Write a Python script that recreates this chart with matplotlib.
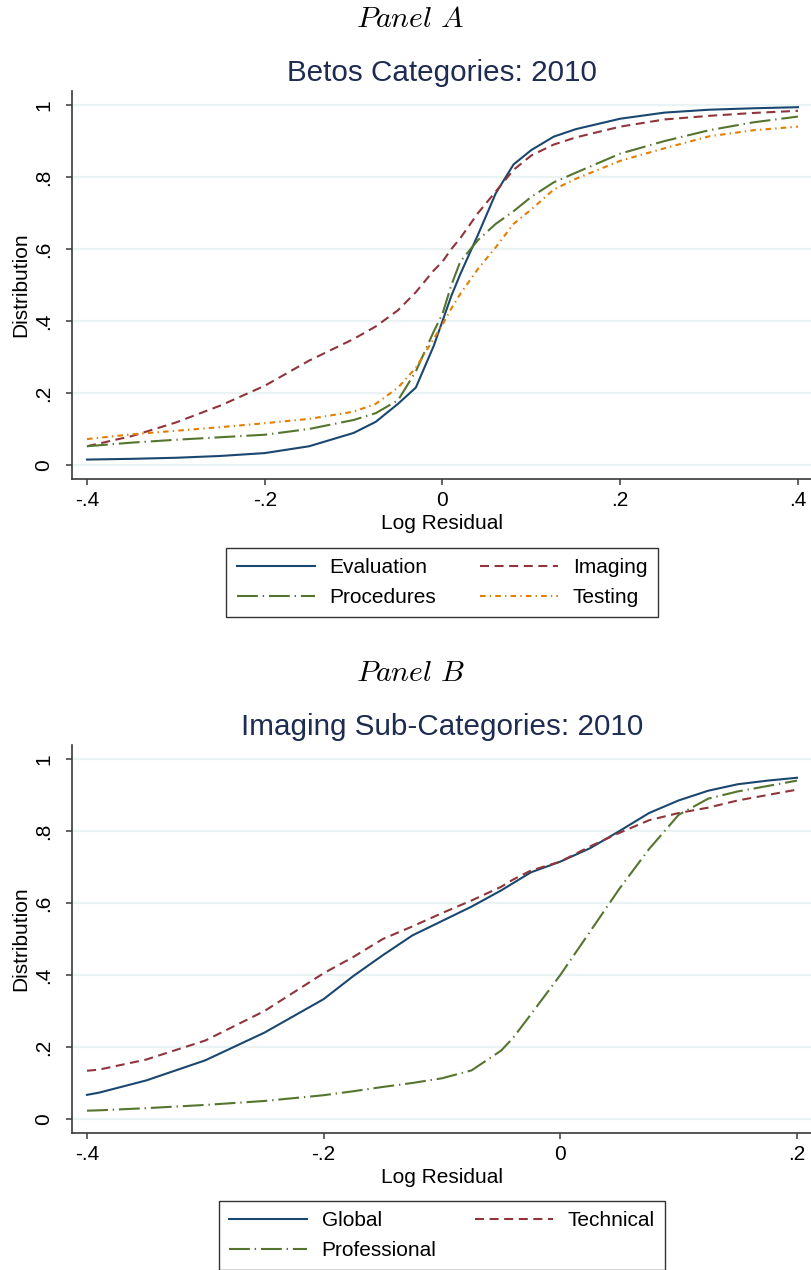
import matplotlib
matplotlib.use("Agg")
import matplotlib.pyplot as plt

plt.rcParams["font.family"] = ["Liberation Sans", "DejaVu Sans"]
plt.rcParams["mathtext.fontset"] = "cm"
plt.rcParams["lines.scale_dashes"] = False

# Panel A: BETOS categories, 2010
x_a = [-0.4, -0.35, -0.3, -0.25, -0.2, -0.15, -0.1, -0.075, -0.05, -0.03, -0.01,
       0.0, 0.01, 0.02, 0.04, 0.06, 0.08, 0.1, 0.125, 0.15, 0.2, 0.25, 0.3, 0.35, 0.4]
evaluation = [0.015, 0.017, 0.02, 0.025, 0.033, 0.052, 0.089, 0.12, 0.17, 0.215, 0.33,
              0.40, 0.47, 0.53, 0.64, 0.755, 0.835, 0.875, 0.912, 0.933, 0.962, 0.979, 0.987, 0.991, 0.994]
imaging = [0.052, 0.08, 0.118, 0.165, 0.22, 0.29, 0.35, 0.385, 0.43, 0.48, 0.54,
           0.565, 0.60, 0.63, 0.70, 0.76, 0.82, 0.86, 0.89, 0.91, 0.94, 0.96, 0.97, 0.978, 0.984]
procedures = [0.052, 0.062, 0.07, 0.077, 0.084, 0.10, 0.125, 0.144, 0.18, 0.26, 0.37,
              0.42, 0.50, 0.565, 0.625, 0.67, 0.705, 0.745, 0.785, 0.812, 0.865, 0.90, 0.93, 0.952, 0.968]
testing = [0.072, 0.085, 0.095, 0.105, 0.116, 0.128, 0.148, 0.17, 0.215, 0.27, 0.35,
           0.39, 0.435, 0.475, 0.545, 0.605, 0.67, 0.71, 0.765, 0.795, 0.845, 0.88, 0.913, 0.93, 0.94]

# Panel B: imaging sub-categories, 2010
x_b = [-0.4, -0.39, -0.35, -0.3, -0.25, -0.2, -0.175, -0.15, -0.125, -0.1, -0.075, -0.05,
       -0.04, -0.025, 0.0, 0.025, 0.05, 0.075, 0.1, 0.125, 0.15, 0.175, 0.2]
global_ = [0.067, 0.073, 0.107, 0.163, 0.24, 0.333, 0.397, 0.455, 0.51, 0.55, 0.59, 0.635,
           0.655, 0.685, 0.715, 0.752, 0.80, 0.85, 0.885, 0.912, 0.93, 0.94, 0.948]
technical = [0.134, 0.137, 0.165, 0.218, 0.30, 0.405, 0.45, 0.50, 0.535, 0.572, 0.607, 0.645,
             0.665, 0.69, 0.715, 0.757, 0.795, 0.83, 0.85, 0.865, 0.885, 0.90, 0.915]
professional = [0.023, 0.024, 0.03, 0.039, 0.05, 0.066, 0.077, 0.089, 0.10, 0.113, 0.135, 0.19,
                0.225, 0.29, 0.40, 0.52, 0.64, 0.75, 0.845, 0.89, 0.91, 0.925, 0.94]

y_ticks = [0, 0.2, 0.4, 0.6, 0.8, 1.0]
y_ticklabels = ["0", ".2", ".4", ".6", ".8", "1"]
xa_ticks = [-0.4, -0.2, 0.0, 0.2, 0.4]
xa_ticklabels = ["-.4", "-.2", "0", ".2", ".4"]
xb_ticks = [-0.4, -0.2, 0.0, 0.2]
xb_ticklabels = ["-.4", "-.2", "0", ".2"]

NAVY = "#1a476f"
MAROON = "#90353b"
GREEN = "#55752f"
ORANGE = "#e37e00"
TITLE_C = "#1e2c52"
LW = 1.5
FS = 15

styles = {
    "solid": "-",
    "dash": (0, (6.5, 4)),
    "longdash_dot": (0, (15, 3.5, 1, 3.5)),
    "shortdash_dot": (0, (4, 3, 1, 3)),
}


def style_axes(ax, xticks, xlabels):
    for s in ["top", "right"]:
        ax.spines[s].set_visible(False)
    for s in ["left", "bottom"]:
        ax.spines[s].set_color("#3a3a3a")
        ax.spines[s].set_linewidth(1.2)
    ax.set_yticks(y_ticks)
    ax.set_yticklabels(y_ticklabels, rotation=90, va="center")
    ax.set_xticks(xticks)
    ax.set_xticklabels(xlabels)
    ax.tick_params(length=4.5, width=1.1, color="#3a3a3a", labelsize=FS, pad=4)
    ax.tick_params(axis="y", pad=9)
    ax.grid(axis="y", color="#eaf2f3", linewidth=1.6)
    ax.set_axisbelow(True)
    ax.set_ylabel("Distribution", fontsize=FS, labelpad=3)
    ax.set_xlabel("Log Residual", fontsize=FS, labelpad=3)


def add_legend(handles, top, colsp):
    leg = fig.legend(handles=handles, loc="upper center", bbox_to_anchor=(442 / 812, top),
                     ncol=2, fontsize=FS, frameon=True, fancybox=False, edgecolor="black",
                     handlelength=3.75, handletextpad=0.7, columnspacing=colsp, borderpad=0.5,
                     labelspacing=0.5, borderaxespad=0)
    leg.get_frame().set_linewidth(1.0)
    return leg


fig = plt.figure(figsize=(8.12, 12.7), dpi=100)

# ---- Panel A ----
ax1 = fig.add_axes([72 / 812, 1 - 479 / 1270, 740 / 812, 388 / 1270])
l_eval, = ax1.plot(x_a, evaluation, color=NAVY, lw=LW, linestyle=styles["solid"], label="Evaluation")
l_img, = ax1.plot(x_a, imaging, color=MAROON, lw=LW, linestyle=styles["dash"], label="Imaging")
l_proc, = ax1.plot(x_a, procedures, color=GREEN, lw=LW, linestyle=styles["longdash_dot"], label="Procedures")
l_test, = ax1.plot(x_a, testing, color=ORANGE, lw=LW, linestyle=styles["shortdash_dot"], label="Testing")
ax1.set_xlim(-0.4169, 0.4158)
ax1.set_ylim(-0.039, 1.039)
style_axes(ax1, xa_ticks, xa_ticklabels)
ax1.set_title("Betos Categories: 2010", fontsize=21.3, color=TITLE_C, pad=7)
fig.text(410 / 812, 1 - 19 / 1270, r"$Panel\ A$", ha="center", va="center", fontsize=21.5)
# legend fills column-wise, so order gives rows: Evaluation/Imaging, Procedures/Testing
add_legend([l_eval, l_proc, l_img, l_test], 1 - 548 / 1270, 2.1)

# ---- Panel B ----
ax2 = fig.add_axes([72 / 812, 1 - 1133 / 1270, 740 / 812, 388 / 1270])
l_glob, = ax2.plot(x_b, global_, color=NAVY, lw=LW, linestyle=styles["solid"], label="Global")
l_tech, = ax2.plot(x_b, technical, color=MAROON, lw=LW, linestyle=styles["dash"], label="Technical")
l_prof, = ax2.plot(x_b, professional, color=GREEN, lw=LW, linestyle=styles["longdash_dot"], label="Professional")
ax2.set_xlim(-0.4127, 0.2127)
ax2.set_ylim(-0.039, 1.039)
style_axes(ax2, xb_ticks, xb_ticklabels)
ax2.set_title("Imaging Sub-Categories: 2010", fontsize=21.3, color=TITLE_C, pad=7)
fig.text(410 / 812, 1 - 673 / 1270, r"$Panel\ B$", ha="center", va="center", fontsize=21.5)
add_legend([l_glob, l_prof, l_tech], 1 - 1201 / 1270, 1.85)

fig.savefig("out.png", dpi=100)
